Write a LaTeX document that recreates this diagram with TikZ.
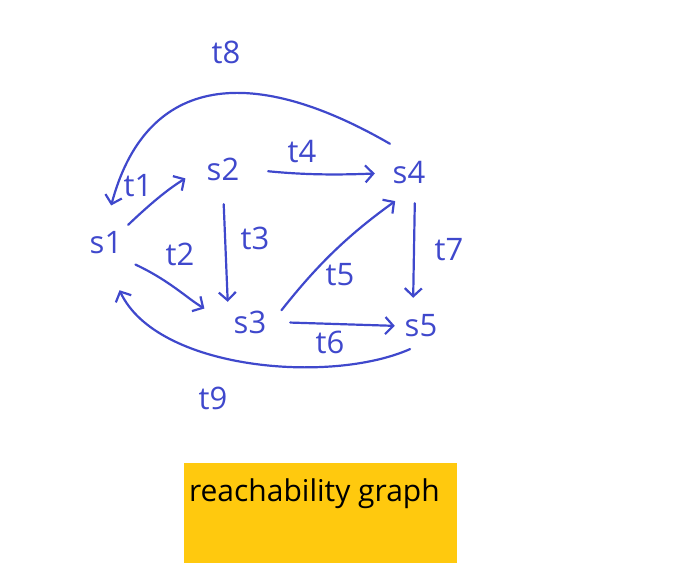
\documentclass[tikz,border=0pt]{standalone}
\usepackage{fontspec}
\setmainfont{Open Sans}
\usetikzlibrary{arrows.meta, positioning}
\definecolor{hand}{RGB}{63,72,204}
\definecolor{gold}{RGB}{255,201,14}
\tikzset{
  state/.style={minimum width=44pt, minimum height=36pt, inner sep=0pt, text=hand, font=\fontsize{31}{31}\selectfont},
  tlabel/.style={inner sep=0pt, text=hand, font=\fontsize{31}{31}\selectfont},
  trans/.style={draw=hand, line width=2.2pt, line cap=round, -{Straight Barb[length=8pt,width=17pt]}},
  titlebox/.style={fill=gold, minimum width=273pt, minimum height=100pt, inner sep=0pt}
}

\begin{document}
\begin{tikzpicture}[x=1pt, y=1pt]
    \useasboundingbox (0,0) rectangle (696,564);

    % states
    \node (s1) [state] at (106,321) {s1};
    \node (s2) [state] at (223,395) {s2};
    \node (s3) [state] at (250,242) {s3};
    \node (s4) [state] at (409,391) {s4};
    \node (s5) [state] at (421,238) {s5};

    % transitions
    \draw [trans, shorten >=18pt] (s1.north east) to[bend left=6] (s2.west);
    \draw [trans, shorten <=8pt, shorten >=27pt] (s1.south east) to[out=-25, in=150] (s3.west);
    \draw [trans, shorten <=17pt, shorten >=2pt] (s2.south) -- (s3.north west);
    \draw [trans, shorten <=23pt, shorten >=12pt] (s2.east) to[bend right=4] (s4.west);
    \draw [trans, shorten <=15pt, shorten >=17pt] (s3.east) to[bend left=8] (s4.south);
    \draw [trans, shorten <=18pt, shorten >=4pt] (s3.east) -- (s5.west);
    \draw [trans, shorten <=12pt, shorten >=10pt] ([xshift=6pt]s4.south) -- ([xshift=-8pt]s5.north);
    \draw [trans, shorten <=22pt, shorten >=20pt] (s4.north) to[out=150, in=75, out distance=190, in distance=150] (s1.north);
    \draw [trans, shorten <=12pt, shorten >=32pt] (s5.south) to[out=204, in=-65, out distance=99, in distance=120] (s1.south);

    % labels
    \node (t1) [tlabel] at (138,378) {t1};
    \node (t2) [tlabel] at (180,310) {t2};
    \node (t3) [tlabel] at (255,326) {t3};
    \node (t4) [tlabel] at (302,412) {t4};
    \node (t5) [tlabel] at (340,289) {t5};
    \node (t6) [tlabel] at (330,222) {t6};
    \node (t7) [tlabel] at (449,314) {t7};
    \node (t8) [tlabel] at (226,512) {t8};
    \node (t9) [tlabel] at (213,166) {t9};

    % caption
    \node (caption) [titlebox] at (320.5,51) {};
    \node (captext) [anchor=base west, inner sep=0pt, font=\fontsize{30}{30}\selectfont] at ([xshift=5pt, yshift=-39pt]caption.north west) {reachability graph};
\end{tikzpicture}
\end{document}
